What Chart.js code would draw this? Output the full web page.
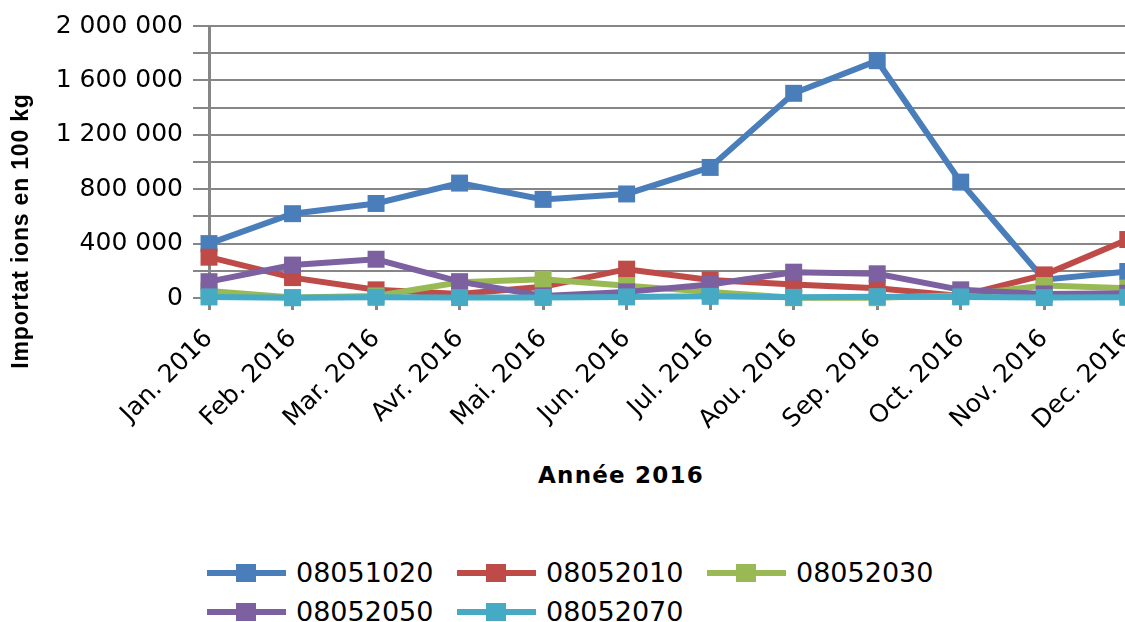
<!DOCTYPE html>
<html lang="fr">
<head>
<meta charset="utf-8">
<title>Importations 2016</title>
<script src="https://cdn.jsdelivr.net/npm/chart.js@4.4.1/dist/chart.umd.min.js"></script>
<style>
  html, body { margin: 0; padding: 0; background: #fff; }
  body { width: 1125px; height: 622px; overflow: hidden; position: relative; }
  #wrap { position: absolute; left: 0; top: 0; width: 1163px; height: 430px; }
  #ytitle {
    position: absolute; left: -128px; top: 216px; width: 300px; height: 30px;
    line-height: 30px; text-align: center; transform: rotate(-90deg);
    font: bold 23px "Liberation Sans", Arial, sans-serif; letter-spacing: 0.8px; color: #000;
  }
  #xtitle {
    position: absolute; left: 471px; top: 462px; width: 300px; height: 30px;
    line-height: 30px; text-align: center;
    font: bold 23px "DejaVu Sans", sans-serif; letter-spacing: 1.2px; color: #000;
  }
  #legend {
    position: absolute; left: 207px; top: 553px;
    display: grid; grid-template-columns: repeat(3, 250px); grid-auto-rows: 39px;
  }
  .item { display: flex; align-items: center; font: 27px "DejaVu Sans", sans-serif; color: #000; }
  .sw { position: relative; width: 79px; height: 20px; margin-right: 10px; }
  .sw .ln { position: absolute; left: 0; right: 0; top: 7px; height: 6px; }
  .sw .mk { position: absolute; left: 29px; top: 1px; width: 20px; height: 18px; }
</style>
</head>
<body>
<div id="wrap"><canvas id="chart"></canvas></div>
<div id="ytitle">Importat ions en 100 kg</div>
<div id="xtitle">Année 2016</div>
<div id="legend"></div>
<script>
(function () {
  // catégories (mois 2016)
  const mois = ['Jan. 2016', 'Feb. 2016', 'Mar. 2016', 'Avr. 2016', 'Mai. 2016', 'Jun. 2016',
                'Jul. 2016', 'Aou. 2016', 'Sep. 2016', 'Oct. 2016', 'Nov. 2016', 'Dec. 2016'];

  // valeurs (100 kg)
  const s08051020 = [400000, 620000, 695000, 845000, 725000, 765000, 960000, 1505000, 1745000, 852000, 135000, 195000];
  const s08052010 = [300000, 150000, 60000, 30000, 83000, 212000, 132000, 100000, 72000, 15000, 170000, 430000];
  const s08052030 = [52000, 3000, 15000, 115000, 138000, 90000, 45000, 2000, 2000, 20000, 92000, 72000];
  const s08052050 = [120000, 242000, 285000, 120000, 15000, 45000, 100000, 190000, 178000, 60000, 30000, 35000];
  const s08052070 = [8000, 2000, 5000, 3000, 4000, 8000, 12000, 5000, 10000, 8000, 3000, 5000];

  const codes = ['08051020', '08052010', '08052030', '08052050', '08052070'];
  const couleurs = ['#4a7ebb', '#be4b48', '#98b954', '#7d60a0', '#46aac5'];
  const series = [s08051020, s08052010, s08052030, s08052050, s08052070];

  const yTicks = { min: 0, max: 2000000, step: 200000, labelEvery: 400000 };

  function fmtNombre(v) {
    return String(v).replace(/\B(?=(\d{3})+(?!\d))/g, ' ');
  }

  const gris = '#868686';

  const datasets = series.map((data, i) => ({
    label: codes[i],
    data,
    borderColor: couleurs[i],
    backgroundColor: couleurs[i],
    borderWidth: 6,
    pointStyle: 'rect',
    pointRadius: 12,
    pointBorderWidth: 0,
    pointBackgroundColor: couleurs[i],
    tension: 0,
    clip: false,
    order: series.length - i   // la dernière série est dessinée au-dessus
  }));

  const ctx = document.getElementById('chart').getContext('2d');
  new Chart(ctx, {
    type: 'line',
    data: { labels: mois, datasets },
    options: {
      responsive: true,
      maintainAspectRatio: false,
      animation: false,
      layout: { padding: { top: 26, right: 0, bottom: 0, left: 0 } },
      plugins: {
        legend: { display: false },
        tooltip: { enabled: false }
      },
      scales: {
        x: {
          offset: false,
          afterFit: (scale) => { scale.height = 132; },
          grid: { drawOnChartArea: false, drawTicks: true, tickLength: 12, color: gris, lineWidth: 3 },
          border: { display: true, color: gris, width: 2 },
          ticks: {
            autoSkip: false,
            minRotation: 45,
            maxRotation: 45,
            padding: 14,
            color: '#000',
            font: { family: '"DejaVu Sans", sans-serif', size: 25 }
          }
        },
        y: {
          min: yTicks.min,
          max: yTicks.max,
          afterFit: (scale) => { scale.width = 209; },
          grid: { color: gris, lineWidth: 2, drawTicks: true, tickLength: 16 },
          border: { display: true, color: gris, width: 3 },
          ticks: {
            stepSize: yTicks.step,
            autoSkip: false,
            padding: 10,
            color: '#000',
            font: { family: '"DejaVu Sans", sans-serif', size: 25 },
            callback: (v) => (v % yTicks.labelEvery === 0 ? fmtNombre(v) : '')
          }
        }
      }
    }
  });

  // légende en HTML (trait + carré)
  const elLegend = document.getElementById('legend');
  elLegend.innerHTML = codes.map((c, i) =>
    `<div class="item"><span class="sw"><span class="ln" style="background:${couleurs[i]}"></span>` +
    `<span class="mk" style="background:${couleurs[i]}"></span></span>${c}</div>`
  ).join('');
})();
</script>
</body>
</html>
